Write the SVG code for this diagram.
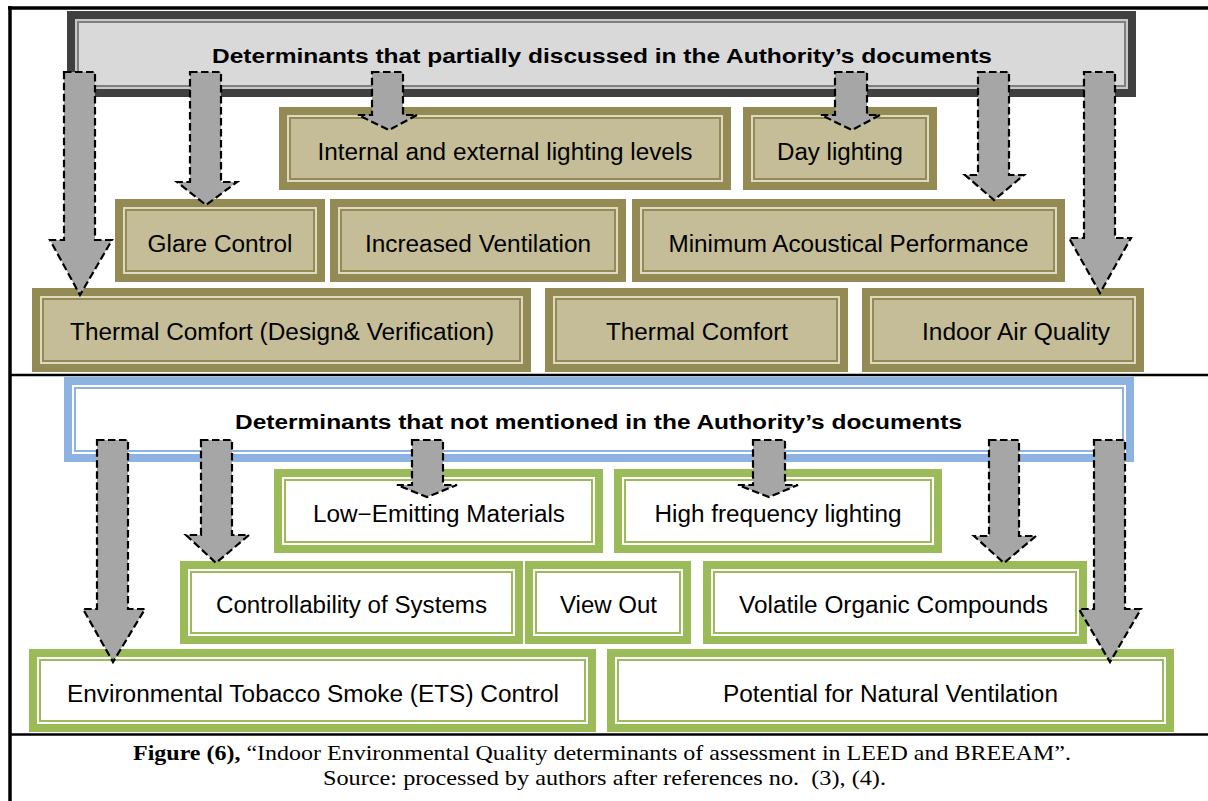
<svg xmlns="http://www.w3.org/2000/svg" width="1208" height="801" viewBox="0 0 1208 801">
<style>
.frame{stroke:#000;stroke-width:3.5;fill:none}
.div{stroke:#000;stroke-width:2.5}
.gBand{fill:#404040}
.gLine{fill:#d9d9d9;stroke:#c8c8c8;stroke-width:2}
.gIn{fill:none;stroke:#7f7f7f;stroke-width:2}
.oBand{fill:#948a54}
.oLine{fill:#c4bd97;stroke:#ddd9c3;stroke-width:2}
.oIn{fill:none;stroke:#948a54;stroke-width:2}
.nBand{fill:#9bbb59}
.nLine{fill:#fff;stroke:#fff;stroke-width:2}
.nIn{fill:none;stroke:#9bbb59;stroke-width:2}
.bBand{fill:#8db3e2}
.bLine{fill:#fff;stroke:#fff;stroke-width:2}
.bIn{fill:none;stroke:#8db3e2;stroke-width:2}
.lbl{font-family:"Liberation Sans",Arial,sans-serif;font-size:23px;fill:#000;text-anchor:middle}
.hdr{font-family:"Liberation Sans",Arial,sans-serif;font-size:20px;font-weight:bold;fill:#000;text-anchor:middle}
.cap{font-family:"Liberation Serif","Times New Roman",serif;font-size:21px;fill:#000;text-anchor:middle}
.arr{fill:#a6a6a6;stroke:#000;stroke-width:2.2;stroke-dasharray:7.5 3.5;stroke-linejoin:miter}
</style>

<g id="frame">
<line class="frame" x1="8" y1="8" x2="1208" y2="8"/>
<line class="frame" x1="10" y1="6" x2="10" y2="801"/>
<line class="div" x1="10" y1="375" x2="1208" y2="375"/>
<line class="div" x1="10" y1="734.5" x2="1208" y2="734.5"/>
</g>

<g id="header-partial">
<rect class="gBand" x="67" y="11" width="1069" height="86"/>
<rect class="gLine" x="76" y="20" width="1051" height="68"/>
<rect class="gIn" x="78" y="22" width="1047" height="64"/>
<text class="hdr" x="602" y="63" textLength="780" lengthAdjust="spacingAndGlyphs">Determinants that partially discussed in the Authority’s documents</text>
</g>

<g id="n-internal">
<rect class="oBand" x="279" y="107" width="452" height="83"/>
<rect class="oLine" x="288" y="116" width="434" height="65"/>
<rect class="oIn" x="290" y="118" width="430" height="61"/>
<text class="lbl" x="505" y="160" textLength="375" lengthAdjust="spacingAndGlyphs">Internal and external lighting levels</text>
</g>
<g id="n-daylighting">
<rect class="oBand" x="743" y="107" width="194" height="83"/>
<rect class="oLine" x="752" y="116" width="176" height="65"/>
<rect class="oIn" x="754" y="118" width="172" height="61"/>
<text class="lbl" x="840" y="160" textLength="126" lengthAdjust="spacingAndGlyphs">Day lighting</text>
</g>
<g id="n-glare">
<rect class="oBand" x="115" y="199" width="210" height="83"/>
<rect class="oLine" x="124" y="208" width="192" height="65"/>
<rect class="oIn" x="126" y="210" width="188" height="61"/>
<text class="lbl" x="220" y="252" textLength="145" lengthAdjust="spacingAndGlyphs">Glare Control</text>
</g>
<g id="n-ventilation">
<rect class="oBand" x="330" y="199" width="296" height="83"/>
<rect class="oLine" x="339" y="208" width="278" height="65"/>
<rect class="oIn" x="341" y="210" width="274" height="61"/>
<text class="lbl" x="478" y="252" textLength="226" lengthAdjust="spacingAndGlyphs">Increased Ventilation</text>
</g>
<g id="n-acoustic">
<rect class="oBand" x="632" y="199" width="433" height="83"/>
<rect class="oLine" x="641" y="208" width="415" height="65"/>
<rect class="oIn" x="643" y="210" width="411" height="61"/>
<text class="lbl" x="848.5" y="252" textLength="360" lengthAdjust="spacingAndGlyphs">Minimum Acoustical Performance</text>
</g>
<g id="n-thermal-dv">
<rect class="oBand" x="32" y="288" width="499" height="84"/>
<rect class="oLine" x="41" y="297" width="481" height="66"/>
<rect class="oIn" x="43" y="299" width="477" height="62"/>
<text class="lbl" x="282" y="340" textLength="424" lengthAdjust="spacingAndGlyphs">Thermal Comfort (Design&amp; Verification)</text>
</g>
<g id="n-thermal">
<rect class="oBand" x="545" y="288" width="303" height="84"/>
<rect class="oLine" x="554" y="297" width="285" height="66"/>
<rect class="oIn" x="556" y="299" width="281" height="62"/>
<text class="lbl" x="697" y="340" textLength="182" lengthAdjust="spacingAndGlyphs">Thermal Comfort</text>
</g>
<g id="n-iaq">
<rect class="oBand" x="862" y="288" width="282" height="84"/>
<rect class="oLine" x="871" y="297" width="264" height="66"/>
<rect class="oIn" x="873" y="299" width="260" height="62"/>
<text class="lbl" x="1016" y="340" textLength="188" lengthAdjust="spacingAndGlyphs">Indoor Air Quality</text>
</g>

<g id="header-not">
<rect class="bBand" x="64" y="377" width="1070" height="85"/>
<rect class="bLine" x="73" y="386" width="1052" height="67"/>
<rect class="bIn" x="75" y="388" width="1048" height="63"/>
<text class="hdr" x="598.5" y="429" textLength="727" lengthAdjust="spacingAndGlyphs">Determinants that not mentioned in the Authority’s documents</text>
</g>

<g id="n-lowemitting">
<rect class="nBand" x="274" y="469" width="329" height="84"/>
<rect class="nLine" x="283" y="478" width="311" height="66"/>
<rect class="nIn" x="285" y="480" width="307" height="62"/>
<text class="lbl" x="439" y="522" textLength="252" lengthAdjust="spacingAndGlyphs">Low−Emitting Materials</text>
</g>
<g id="n-highfreq">
<rect class="nBand" x="614" y="469" width="328" height="84"/>
<rect class="nLine" x="623" y="478" width="310" height="66"/>
<rect class="nIn" x="625" y="480" width="306" height="62"/>
<text class="lbl" x="778" y="522" textLength="247" lengthAdjust="spacingAndGlyphs">High frequency lighting</text>
</g>
<g id="n-controllability">
<rect class="nBand" x="180" y="561" width="343" height="83"/>
<rect class="nLine" x="189" y="570" width="325" height="65"/>
<rect class="nIn" x="191" y="572" width="321" height="61"/>
<text class="lbl" x="351.5" y="613" textLength="271" lengthAdjust="spacingAndGlyphs">Controllability of Systems</text>
</g>
<g id="n-viewout">
<rect class="nBand" x="525" y="561" width="166" height="83"/>
<rect class="nLine" x="534" y="570" width="148" height="65"/>
<rect class="nIn" x="536" y="572" width="144" height="61"/>
<text class="lbl" x="608.5" y="613" textLength="97" lengthAdjust="spacingAndGlyphs">View Out</text>
</g>
<g id="n-voc">
<rect class="nBand" x="703" y="561" width="384" height="83"/>
<rect class="nLine" x="712" y="570" width="366" height="65"/>
<rect class="nIn" x="714" y="572" width="362" height="61"/>
<text class="lbl" x="893.5" y="613" textLength="309" lengthAdjust="spacingAndGlyphs">Volatile Organic Compounds</text>
</g>
<g id="n-ets">
<rect class="nBand" x="29" y="649" width="567" height="83"/>
<rect class="nLine" x="38" y="658" width="549" height="65"/>
<rect class="nIn" x="40" y="660" width="545" height="61"/>
<text class="lbl" x="313" y="702" textLength="492" lengthAdjust="spacingAndGlyphs">Environmental Tobacco Smoke (ETS) Control</text>
</g>
<g id="n-natvent">
<rect class="nBand" x="607" y="649" width="567" height="83"/>
<rect class="nLine" x="616" y="658" width="549" height="65"/>
<rect class="nIn" x="618" y="660" width="545" height="61"/>
<text class="lbl" x="890.5" y="702" textLength="335" lengthAdjust="spacingAndGlyphs">Potential for Natural Ventilation</text>
</g>

<g id="connectors">
<polygon class="arr" points="64,72 95,72 95,240 112,240 80,295 50,240 64,240"/>
<polygon class="arr" points="190,72 221,72 221,182 237,182 206,205 177,182 190,182"/>
<polygon class="arr" points="372,72 403,72 403,115 417,115 389,130 358,115 372,115"/>
<polygon class="arr" points="835,72 867,72 867,115 880,115 852,130 821,115 835,115"/>
<polygon class="arr" points="978,72 1009,72 1009,175 1024,175 994,200 965,175 978,175"/>
<polygon class="arr" points="1084,72 1115,72 1115,238 1131,238 1100,293 1069,238 1084,238"/>
<polygon class="arr" points="97,440 128,440 128,609 145,609 113,662 83,609 97,609"/>
<polygon class="arr" points="201,440 232,440 232,535 249,535 216,563 186,535 201,535"/>
<polygon class="arr" points="412,440 443,440 443,485 457,485 427,497 397,485 412,485"/>
<polygon class="arr" points="753,440 785,440 785,485 798,485 769,497 738,485 753,485"/>
<polygon class="arr" points="989,440 1019,440 1019,536 1036,536 1004,563 974,536 989,536"/>
<polygon class="arr" points="1094,440 1125,440 1125,609 1141,609 1110,662 1079,609 1094,609"/>
</g>

<g id="caption">
<text class="cap" x="602" y="759.5" textLength="938" lengthAdjust="spacingAndGlyphs"><tspan font-weight="bold">Figure (6),</tspan> “Indoor Environmental Quality determinants of assessment in LEED and BREEAM”.</text>
<text class="cap" x="604.5" y="785" textLength="563" lengthAdjust="spacingAndGlyphs" xml:space="preserve">Source: processed by authors after references no.  (3), (4).</text>
</g>
</svg>
